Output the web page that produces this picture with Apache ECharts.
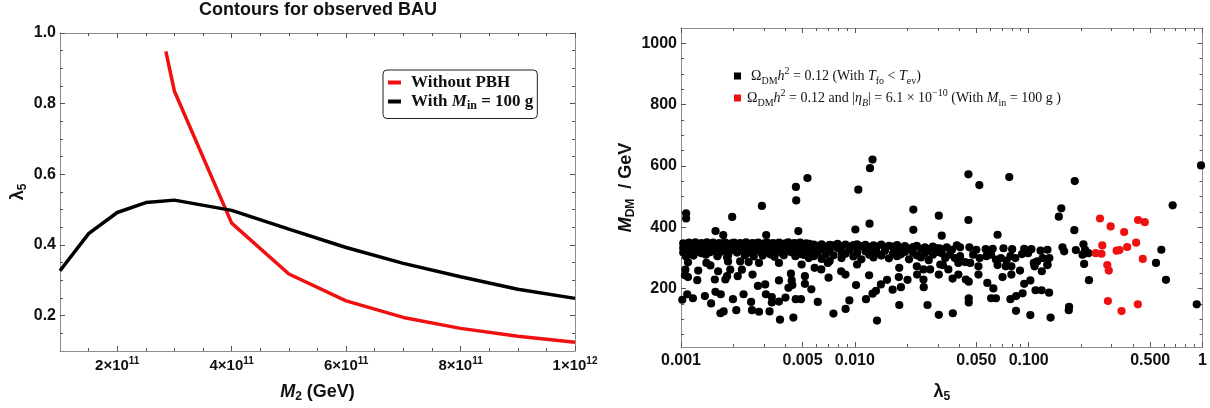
<!DOCTYPE html>
<html>
<head>
<meta charset="UTF-8">
<title>index</title>
<script src="https://cdn.jsdelivr.net/npm/echarts@6/dist/echarts.min.js"></script>
<style>
  html, body { margin: 0; padding: 0; background: #fff; }
  #main { width: 1210px; height: 408px; }
</style>
</head>
<body>
<div id="main"></div>
<script>
// ---- left panel: BAU contours ----
const m2Red = [2.85e11, 3e11, 4e11, 5e11, 6e11, 7e11, 8e11, 9e11, 1e12]
const lamRed = [0.948, 0.835, 0.462, 0.318, 0.242, 0.195, 0.164, 0.142, 0.125]
const m2Black = [1e11, 1.5e11, 2e11, 2.5e11, 3e11, 4e11, 5e11, 6e11, 7e11, 8e11, 9e11, 1e12]
const lamBlack = [0.327, 0.432, 0.492, 0.52, 0.527, 0.498, 0.445, 0.393, 0.348, 0.31, 0.275, 0.249]

const leftXMajor = [2e11, 4e11, 6e11, 8e11, 1e12]
const leftXMinor = [1.5e11, 2.5e11, 3e11, 3.5e11, 4.5e11, 5e11, 5.5e11, 6.5e11, 7e11, 7.5e11, 8.5e11, 9e11, 9.5e11]
const leftYMajor = [0.2, 0.4, 0.6, 0.8, 1.0]
const leftYMinor = [0.15, 0.25, 0.3, 0.35, 0.45, 0.5, 0.55, 0.65, 0.7, 0.75, 0.85, 0.9, 0.95]

// ---- right panel: scan ----
const rightXMajor = [0.001, 0.005, 0.01, 0.05, 0.1, 0.5, 1]
const rightXText = ['0.001', '0.005', '0.010', '0.050', '0.100', '0.500', '1']
const rightXMinor = [0.002, 0.003, 0.004, 0.006, 0.007, 0.008, 0.009, 0.02, 0.03, 0.04, 0.06, 0.07, 0.08, 0.09,
  0.2, 0.3, 0.4, 0.6, 0.7, 0.8, 0.9]
const rightYMajor = [200, 400, 600, 800, 1000]
const rightYMinor = [50, 100, 150, 250, 300, 350, 450, 500, 550, 650, 700, 750, 850, 900, 950]

// dense band of black points [lambda5, M_DM]
const bandPts = [
  [0.00103,348],[0.00103,333],[0.00103,318],[0.00107,344],[0.00107,326],[0.00107,305],
  [0.00111,350],[0.00111,337],[0.00111,322],[0.00116,346],[0.00116,330],
  [0.00121,351],[0.00121,339],[0.00121,320],[0.00126,343],[0.00126,327],
  [0.00131,349],[0.00131,334],[0.00131,316],[0.00136,345],[0.00136,323],
  [0.00141,351],[0.00141,338],[0.00141,328],[0.00147,347],[0.00147,319],
  [0.00153,350],[0.00153,335],[0.00153,325],[0.00159,344],[0.00159,331],
  [0.00166,349],[0.00166,317],[0.00172,346],[0.00172,336],[0.00172,324],
  [0.00179,351],[0.00179,329],[0.00187,343],[0.00187,321],[0.00187,310],
  [0.00194,348],[0.00194,334],[0.00202,350],[0.00202,326],
  [0.0021,345],[0.0021,338],[0.0021,318],[0.00219,349],[0.00219,330],
  [0.00228,346],[0.00228,322],[0.00237,351],[0.00237,336],[0.00237,314],
  [0.00247,344],[0.00247,328],[0.00257,349],[0.00257,333],[0.00257,320],
  [0.00267,347],[0.00267,325],[0.00278,350],[0.00278,337],[0.00289,343],[0.00289,318],
  [0.00301,348],[0.00301,331],[0.00301,323],[0.00313,351],[0.00313,339],
  [0.00326,345],[0.00326,327],[0.00326,312],[0.00339,349],[0.00339,334],
  [0.00353,346],[0.00353,320],[0.00367,350],[0.00367,337],[0.00367,326],
  [0.00382,344],[0.00382,316],[0.00398,348],[0.00398,332],[0.00414,351],[0.00414,324],
  [0.00431,345],[0.00431,338],[0.00431,319],[0.00448,349],[0.00448,329],
  [0.00466,347],[0.00466,322],[0.00485,350],[0.00485,335],[0.00485,313],
  [0.00505,343],[0.00505,327],[0.00525,348],[0.00525,333],[0.00547,346],[0.00547,320],
  [0.00118,308],[0.00139,311],[0.00162,306],[0.00184,303],[0.00233,309],[0.00262,305],
  [0.00295,308],[0.00345,304],[0.0039,309],[0.00455,306],[0.0051,310],
  [0.0058,344],[0.0058,328],[0.0058,306],[0.00611,340],[0.00611,318],
  [0.00644,345],[0.00644,331],[0.00644,297],[0.00679,338],[0.00679,312],
  [0.00716,343],[0.00716,325],[0.00716,290],[0.00754,341],[0.00754,309],
  [0.00795,346],[0.00795,333],[0.00838,339],[0.00838,320],[0.00838,300],
  [0.00883,344],[0.00883,314],[0.00931,337],[0.00931,326],[0.00981,342],[0.00981,305],
  [0.0103,345],[0.0103,330],[0.0103,316],[0.0109,339],[0.0109,296],
  [0.0115,343],[0.0115,322],[0.0121,336],[0.0121,311],
  [0.0128,341],[0.0128,327],[0.0128,302],[0.0134,338],[0.0134,317],
  [0.0142,344],[0.0142,308],[0.0149,335],[0.0149,324],[0.0157,340],[0.0157,299],
  [0.0166,337],[0.0166,315],[0.0175,342],[0.0175,328],[0.0175,306],
  [0.0184,333],[0.0184,312],[0.0194,339],[0.0194,320],[0.0205,331],[0.0205,296],
  [0.0216,336],[0.0216,318],[0.0227,340],[0.0227,309],[0.024,330],[0.024,302],
  [0.0253,335],[0.0253,316],[0.0266,329],[0.0266,293],[0.0281,337],[0.0281,311],
  [0.0296,332],[0.0296,320],
  [0.0307,332],[0.0338,335],[0.0386,341],[0.0403,335],[0.0456,335],[0.05,327],
  [0.0566,329],[0.0621,330],[0.0716,332],[0.0803,329],[0.0942,330],[0.1036,329],
  [0.117,324],[0.1282,327],[0.1564,335],
  [0.0316,316],[0.0352,311],[0.0376,300],[0.0403,306],[0.043,287],[0.0479,311],
  [0.0522,300],[0.0571,306],[0.0608,311],[0.0648,295],[0.0692,300],[0.0745,292],
  [0.0785,306],[0.0838,300],[0.0915,313],[0.0992,316],[0.107,284],[0.1118,289],
  [0.1203,300],[0.1314,300],[0.1282,277],[0.0362,327],[0.0331,300],[0.0394,284],
  [0.0461,284],[0.0514,273],[0.0662,277],[0.0738,273],[0.0795,273]
]

// scattered black points below the band
const lowPts = [
  [0.001097,286],[0.00106,262],[0.001054,244],[0.001097,238],[0.001086,182],[0.001017,164],
  [0.001171,169],[0.00124,228],[0.001256,259],[0.001372,176],[0.0014,284],[0.001476,276],
  [0.00149,152],[0.001565,230],[0.001578,190],[0.001635,257],[0.001693,182],[0.001686,120],
  [0.00176,126],[0.0018,230],[0.00184,241],[0.001865,289],[0.00192,262],[0.00199,166],
  [0.00208,130],[0.00212,241],[0.00219,289],[0.00224,262],[0.00229,182],[0.00245,287],
  [0.00253,157],[0.00258,246],[0.00256,130],[0.00277,209],[0.00281,125],[0.00281,284],
  [0.00305,214],[0.00308,182],[0.00323,126],[0.00333,173],[0.00333,155],[0.00366,284],
  [0.00366,227],[0.00366,158],[0.00371,99],[0.00399,171],[0.00415,203],[0.00429,249],
  [0.00433,227],[0.00437,212],[0.00443,106],[0.00457,166],[0.0049,166],[0.00494,279],
  [0.00516,241],[0.00516,216],[0.00543,300],
  [0.00562,198],[0.00612,157],[0.00706,236],[0.00699,284],[0.00587,268],[0.00641,263],
  [0.00753,119],[0.00834,257],[0.00883,246],[0.00885,134],[0.0093,162],[0.01016,212],
  [0.0103,279],[0.01159,166],[0.01208,244],[0.01264,184],[0.01323,193],[0.01341,96],
  [0.01412,214],[0.01532,229],[0.01649,197],[0.01801,147],[0.0179,238],[0.01841,205],
  [0.018,268],[0.02009,229],[0.02273,273],[0.0228,246],[0.02482,230],[0.0249,205],
  [0.0248,263],[0.02712,263],[0.02618,147],[0.0304,246],[0.0304,115],[0.031,279],
  [0.0366,120],[0.0321,277],[0.0345,263],[0.0365,233],[0.0394,246],[0.0435,230],
  [0.0452,223],[0.0452,169],[0.0452,155],[0.0514,246],[0.0578,219],[0.0626,201],
  [0.0608,169],[0.0648,169],[0.0707,238],[0.0795,246],[0.0785,166],[0.0847,176],
  [0.0845,128],[0.0891,259],[0.0922,185],[0.0942,216],[0.1022,227],[0.1022,114],
  [0.1081,273],[0.1095,195],[0.1187,195],[0.119,257],[0.131,187],[0.1336,106],
  [0.1282,279],[0.1707,141],[0.17,130],[0.1599,322],
  [0.2065,345],[0.1867,326],[0.211,327],[0.2204,316],[0.2039,311],[0.2084,281],
  [0.2222,228],[0.5794,327],[0.5399,284],[0.616,229],[0.926,149]
]

// scattered black points above the band
const highPts = [
  [0.00107,446],[0.00107,429],[0.00197,434],[0.00292,470],[0.00158,388],[0.00175,375],
  [0.00309,375],[0.00473,388],[0.00458,532],[0.0046,488],[0.00534,561],[0.01264,621],
  [0.01222,593],[0.01047,523],[0.0217,458],[0.0304,438],[0.01215,412],[0.01007,393],
  [0.0217,392],[0.0316,373],[0.045,573],[0.052,538],[0.0773,564],[0.184,551],
  [0.045,424],[0.154,462],[0.149,435],[0.183,391],[0.0662,376],[0.673,472],[0.98,602]
]

// red points: DM relic and BAU both satisfied
const redPts = [
  [0.2572,429],[0.2961,403],[0.354,385],[0.4259,424],[0.4651,417],[0.2651,341],
  [0.243,316],[0.2622,314],[0.3204,324],[0.3328,326],[0.3685,336],[0.415,350],
  [0.4531,297],[0.2832,277],[0.2888,259],[0.2855,160],[0.342,127],[0.4244,149]
]

const SANS = '"Liberation Sans", Arial, sans-serif'
const SERIF = '"Liberation Serif", "Times New Roman", serif'
const frameColor = '#8c8c8c'
const tickColor = '#555'

function zip(xs, ys) {
  let out = []
  for (let i = 0; i < xs.length; i++) out.push([xs[i], ys[i]])
  return out
}

// one side of a Mathematica-style frame, ticks pointing inward
function frameAxis(grid, pos, type, min, max, ticks, len, showLine) {
  return {
    type: type, gridIndex: grid, position: pos, min: min, max: max,
    axisLine: { show: showLine, onZero: false, lineStyle: { color: frameColor, width: 1 } },
    axisTick: { show: true, inside: true, length: len, customValues: ticks, lineStyle: { color: tickColor, width: 1 } },
    axisLabel: { show: false },
    splitLine: { show: false },
    minorTick: { show: false }
  }
}

const tickFont = { fontFamily: SANS, fontWeight: 'bold', fontSize: 16, color: '#111' }
const nameRich = {
  n: { fontFamily: SANS, fontWeight: 'bold', fontSize: 18, lineHeight: 22, color: '#111' },
  i: { fontFamily: SANS, fontWeight: 'bold', fontStyle: 'italic', fontSize: 18, lineHeight: 22, color: '#111' },
  s: { fontFamily: SANS, fontWeight: 'bold', fontSize: 12, lineHeight: 14, verticalAlign: 'bottom', color: '#111' }
}

// left x main axis
let lx = frameAxis(0, 'bottom', 'value', 1e11, 1e12, leftXMajor, 5, true)
lx.axisLabel = {
  show: true, customValues: leftXMajor, margin: 5,
  formatter: function (v) {
    if (v >= 1e12) return '{b|1×10}{s|12}'
    return '{b|' + Math.round(v / 1e11) + '×10}{s|11}'
  },
  rich: {
    b: { fontFamily: SANS, fontWeight: 'bold', fontSize: 15, lineHeight: 20, color: '#111' },
    s: { fontFamily: SANS, fontWeight: 'bold', fontSize: 10, lineHeight: 12, verticalAlign: 'top', color: '#111' }
  }
}
lx.name = '{i|M}{s|2}{n| (GeV)}'
lx.nameLocation = 'middle'
lx.nameGap = 30
lx.nameTextStyle = { rich: nameRich }

let ly = frameAxis(0, 'left', 'value', 0.1, 1.0, leftYMajor, 5, true)
ly.axisLabel = {
  show: true, customValues: leftYMajor, margin: 4,
  formatter: function (v) { return v.toFixed(1) }
}
Object.assign(ly.axisLabel, tickFont)
ly.name = '{n|λ}{s|5}'
ly.nameLocation = 'middle'
ly.nameRotate = 90
ly.nameGap = 31
ly.nameTextStyle = { rich: nameRich }

let rx = frameAxis(1, 'bottom', 'log', 0.001, 1, rightXMajor, 5, true)
rx.logBase = 10
rx.axisLabel = {
  show: true, customValues: rightXMajor, margin: 6,
  formatter: function (v) {
    let k = 0
    for (let i = 0; i < rightXMajor.length; i++) {
      if (Math.abs(Math.log10(v) - Math.log10(rightXMajor[i])) < 0.01) k = i
    }
    return rightXText[k]
  }
}
Object.assign(rx.axisLabel, tickFont)
rx.name = '{n|λ}{s|5}'
rx.nameLocation = 'middle'
rx.nameGap = 34
rx.nameTextStyle = { rich: nameRich }

let ry = frameAxis(1, 'left', 'value', 10, 1050, rightYMajor, 5, true)
ry.axisLabel = {
  show: true, customValues: rightYMajor, margin: 4,
  formatter: function (v) { return String(Math.round(v)) }
}
Object.assign(ry.axisLabel, tickFont)
ry.name = '{i|M}{s|DM}{n|  / GeV}'
ry.nameLocation = 'middle'
ry.nameRotate = 90
ry.nameGap = 44
ry.nameTextStyle = { rich: nameRich }

let xAxes = [
  lx,
  frameAxis(0, 'bottom', 'value', 1e11, 1e12, leftXMinor, 3, false),
  frameAxis(0, 'top', 'value', 1e11, 1e12, leftXMajor, 5, true),
  frameAxis(0, 'top', 'value', 1e11, 1e12, leftXMinor, 3, false),
  rx,
  frameAxis(1, 'bottom', 'log', 0.001, 1, rightXMinor, 3, false),
  frameAxis(1, 'top', 'log', 0.001, 1, rightXMajor, 5, true),
  frameAxis(1, 'top', 'log', 0.001, 1, rightXMinor, 3, false)
]
let yAxes = [
  ly,
  frameAxis(0, 'left', 'value', 0.1, 1.0, leftYMinor, 3, false),
  frameAxis(0, 'right', 'value', 0.1, 1.0, leftYMajor, 5, true),
  frameAxis(0, 'right', 'value', 0.1, 1.0, leftYMinor, 3, false),
  ry,
  frameAxis(1, 'left', 'value', 10, 1050, rightYMinor, 3, false),
  frameAxis(1, 'right', 'value', 10, 1050, rightYMajor, 5, true),
  frameAxis(1, 'right', 'value', 10, 1050, rightYMinor, 3, false)
]

const legRich = {
  n: { fontFamily: SERIF, fontSize: 14, lineHeight: 20, color: '#111' },
  i: { fontFamily: SERIF, fontStyle: 'italic', fontSize: 14, lineHeight: 20, color: '#111' },
  s: { fontFamily: SERIF, fontSize: 10, lineHeight: 12, verticalAlign: 'bottom', color: '#111' },
  si: { fontFamily: SERIF, fontStyle: 'italic', fontSize: 10, lineHeight: 12, verticalAlign: 'bottom', color: '#111' },
  p: { fontFamily: SERIF, fontSize: 10, lineHeight: 14, verticalAlign: 'top', color: '#111' }
}
const legBoldRich = {
  n: { fontFamily: SERIF, fontWeight: 'bold', fontSize: 17, lineHeight: 20, color: '#111' },
  i: { fontFamily: SERIF, fontWeight: 'bold', fontStyle: 'italic', fontSize: 17, lineHeight: 20, color: '#111' },
  s: { fontFamily: SERIF, fontWeight: 'bold', fontSize: 12, lineHeight: 13, verticalAlign: 'bottom', color: '#111' }
}

const nameRed = 'Without PBH'
const nameBlack = 'With Min = 100 g'
const nameDM = 'DM relic'
const nameBoth = 'DM relic and BAU'

let option = {
  animation: false,
  backgroundColor: '#fff',
  title: {
    text: 'Contours for observed BAU',
    left: 318, top: 1, padding: 0, textAlign: 'center',
    textStyle: { fontFamily: SANS, fontWeight: 'bold', fontSize: 18, color: '#111' }
  },
  grid: [
    { left: 60, top: 33, width: 515, height: 319 },
    { left: 681, top: 28, width: 524, height: 322 }
  ],
  legend: [
    {
      data: [nameRed, nameBlack], orient: 'vertical', left: 383, top: 70,
      padding: [4, 4, 7, 5], itemGap: 2, itemWidth: 13, itemHeight: 4, icon: 'rect',
      borderColor: '#222', borderWidth: 1, borderRadius: 4,
      textStyle: { padding: [0, 0, 0, 5], rich: legBoldRich },
      formatter: function (n) {
        if (n === nameRed) return '{n|Without PBH}'
        return '{n|With }{i|M}{s|in}{n| = 100 g}'
      }
    },
    {
      data: [
        { name: nameDM, textStyle: { padding: [0, 0, 0, 5] } },
        { name: nameBoth, textStyle: { padding: [0, 0, 0, 1] } }
      ],
      orient: 'vertical', left: 734, top: 66, padding: 0, itemGap: 2,
      itemWidth: 7, itemHeight: 7, icon: 'rect',
      textStyle: { rich: legRich },
      formatter: function (n) {
        if (n === nameDM) return '{n|Ω}{s|DM}{i|h}{p|2}{n| = 0.12 (With }{i|T}{s|fo}{n| < }{i|T}{s|ev}{n|)}'
        return '{n|Ω}{s|DM}{i|h}{p|2}{n| = 0.12 and |}{i|η}{si|B}{n|| = 6.1 × 10}{p|−10}{n| (With }{i|M}{s|in}{n| = 100 g )}'
      }
    }
  ],
  xAxis: xAxes,
  yAxis: yAxes,
  series: [
    {
      name: nameRed, type: 'line', xAxisIndex: 0, yAxisIndex: 0, data: zip(m2Red, lamRed),
      showSymbol: false, color: '#f01010', lineStyle: { width: 3.5, color: '#f01010' }, clip: true
    },
    {
      name: nameBlack, type: 'line', xAxisIndex: 0, yAxisIndex: 0, data: zip(m2Black, lamBlack),
      showSymbol: false, color: '#000', lineStyle: { width: 3.5, color: '#000' }, clip: true
    },
    {
      name: nameDM, type: 'scatter', xAxisIndex: 4, yAxisIndex: 4,
      data: bandPts.concat(lowPts, highPts), symbolSize: 8.2,
      itemStyle: { color: '#000', opacity: 1 }, clip: true
    },
    {
      name: nameBoth, type: 'scatter', xAxisIndex: 4, yAxisIndex: 4,
      data: redPts, symbolSize: 8.2,
      itemStyle: { color: '#ee1111', opacity: 1 }, clip: true
    }
  ]
}

let chart = echarts.init(document.getElementById('main'), null, { renderer: 'canvas' })
chart.setOption(option)
</script>
</body>
</html>
